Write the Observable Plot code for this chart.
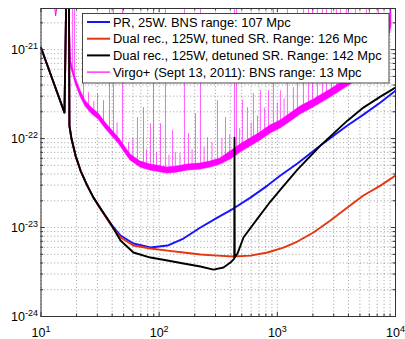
<!DOCTYPE html>
<html><head><meta charset="utf-8">
<script src="https://cdn.jsdelivr.net/npm/d3@7"></script>
<script src="https://cdn.jsdelivr.net/npm/@observablehq/plot@0.6"></script>
<style>
body{margin:0;background:#fff;}
#chart{width:405px;height:339px;position:relative;}
</style>
</head><body><div id="chart"></div>
<script>
// ---- tick labels ----
const xTicks = [10, 100, 1000, 10000];
const xTickLabels = ["10^1", "10^2", "10^3", "10^4"];
const yTicks = [1e-24, 1e-23, 1e-22, 1e-21];
const yTickLabels = ["10^-24", "10^-23", "10^-22", "10^-21"];

// ---- legend ----
const seriesNames = [
  "PR, 25W. BNS range: 107 Mpc",
  "Dual rec., 125W, tuned SR. Range: 126 Mpc",
  "Dual rec., 125W, detuned SR. Range: 142 Mpc",
  "Virgo+ (Sept 13, 2011): BNS range: 13 Mpc"
];
const seriesColors = ["#1414ff", "#e5360f", "#000000", "#ff00ff"];

// ---- PR, 25W ----
const prF = [10, 15.8, 16.5, 17.2, 17.4, 18.1, 19.6, 21.6, 24.4, 27.8, 31.9, 38.8, 47.1, 60.6, 84.4, 117.6, 160.6, 223.6, 311, 425, 592, 825, 1062, 1479, 2315, 3918, 5350, 7454, 10000];
const prV = [1.05e-21, 1.96e-22, 8e-21, 8e-21, 1.40e-22, 1.0e-22, 6.44e-23, 4.37e-23, 3.04e-23, 2.17e-23, 1.635e-23, 1.109e-23, 8.13e-24, 6.61e-24, 5.96e-24, 6.28e-24, 7.52e-24, 1.0e-23, 1.295e-23, 1.635e-23, 2.17e-23, 2.96e-23, 3.84e-23, 5.24e-23, 8.34e-23, 1.40e-22, 1.86e-22, 2.54e-22, 3.46e-22];

// ---- Dual recycling, tuned SR ----
const tunedF = [10, 15.8, 16.5, 17.2, 17.4, 18.1, 19.6, 21.6, 24.4, 27.8, 31.9, 38.8, 47.1, 60.6, 84.4, 117.6, 160.6, 223.6, 311, 425, 592, 825, 1126, 1479, 2021, 2813, 3918, 5350, 7454, 10000];
const tunedV = [1.05e-21, 1.96e-22, 8e-21, 8e-21, 1.40e-22, 1.0e-22, 6.44e-23, 4.37e-23, 3.04e-23, 2.17e-23, 1.62e-23, 1.08e-23, 7.72e-24, 6.28e-24, 5.81e-24, 5.51e-24, 5.24e-24, 4.97e-24, 4.84e-24, 4.72e-24, 4.84e-24, 5.24e-24, 5.96e-24, 6.96e-24, 8.79e-24, 1.20e-23, 1.68e-23, 2.29e-23, 2.96e-23, 3.84e-23];

// ---- Dual recycling, detuned SR ----
const detunedF = [10, 15.8, 16.5, 17.2, 17.4, 18.1, 19.6, 21.6, 24.4, 27.8, 31.9, 38.8, 47.1, 60.6, 84.4, 117.6, 160.6, 223.6, 288, 350, 401, 432, 434, 436, 460, 517, 679, 874, 1062, 1479, 2315, 3918, 5350, 7454, 10000];
const detunedV = [1.05e-21, 1.96e-22, 8e-21, 8e-21, 1.40e-22, 1.0e-22, 6.44e-23, 4.37e-23, 3.04e-23, 2.17e-23, 1.635e-23, 1.109e-23, 7.14e-24, 5.24e-24, 4.60e-24, 4.26e-24, 3.94e-24, 3.65e-24, 3.37e-24, 3.55e-24, 4.04e-24, 4.48e-24, 1.026e-22, 4.6e-24, 5.10e-24, 7.72e-24, 1.26e-23, 1.96e-23, 2.67e-23, 4.48e-23, 8.34e-23, 1.59e-22, 2.23e-22, 2.96e-22, 3.74e-22];

// ---- Virgo+ measured (Sept 13, 2011) ----
const virgoLowF = [12.2, 13.0, 13.3, 13.7, 14.4, 16.8, 17.8];
const virgoLowV = [8e-21, 3.2e-21, 2.4e-21, 3.2e-21, 8e-21, 8e-21, 7.14e-22];
const virgoF  = [17.8, 19.6, 21.6, 23.8, 26.7, 30.7, 35.1, 39.5, 45.3, 51.9, 57.2, 69.5, 84.4, 117.6, 142.8, 173.5, 223.6, 271.6, 330, 401, 487, 592, 719, 874, 1062, 1291, 1568, 2021, 2813, 3918, 5047, 6761, 8215, 9233];
const virgoLo = [6.61e-22, 4.15e-22, 2.96e-22, 2.29e-22, 1.91e-22, 1.635e-22, 1.295e-22, 1.08e-22, 8.79e-23, 6.78e-23, 5.66e-23, 4.72e-23, 4.37e-23, 4.04e-23, 4.15e-23, 4.37e-23, 4.48e-23, 4.72e-23, 5.10e-23, 5.81e-23, 6.96e-23, 8.13e-23, 9.50e-23, 1.138e-22, 1.295e-22, 1.55e-22, 1.86e-22, 2.23e-22, 2.89e-22, 3.84e-22, 4.72e-22, 6.28e-22, 9.25e-22, 1.81e-21];
const virgoHi = [7.72e-22, 4.84e-22, 3.46e-22, 2.67e-22, 2.23e-22, 1.91e-22, 1.513e-22, 1.26e-22, 1.026e-22, 7.92e-23, 6.61e-23, 5.51e-23, 5.10e-23, 4.72e-23, 4.84e-23, 5.10e-23, 5.24e-23, 5.51e-23, 5.96e-23, 7.14e-23, 8.56e-23, 1.0e-22, 1.168e-22, 1.40e-22, 1.59e-22, 1.91e-22, 2.29e-22, 2.74e-22, 3.55e-22, 4.72e-22, 5.81e-22, 7.72e-22, 1.138e-21, 3.12e-21];
const lineF   = [18.5, 19.2, 22.9, 25.2, 28.0, 30.1, 33.8, 38.0, 41.1, 44.0, 48.9, 55.0, 60.0, 65.5, 73.7, 78.0, 84.4, 89.5, 95.0, 102.6, 113.0, 121.0, 129.6, 137.0, 150.0, 163.7, 177.0, 190.0, 202.8, 223.6, 240.0, 256.2, 280.0, 311.3, 340.0, 363.9, 395.0, 434, 450.8, 480.0, 506.7, 558.5, 600.0, 628, 680.0, 719, 780.0, 840.9, 926.8, 1000, 1062, 1140, 1217, 1368, 1479, 1663, 1833, 1982, 2184, 2408, 2603, 2870, 3162, 3418, 3842, 3995, 4578, 5673, 6015, 7167];
const lineTop = [5e-21, 5e-21, 5.0e-22, 3.3e-22, 2.6e-22, 3.2e-22, 2.67e-22, 5e-21, 5e-21, 1.5e-22, 5e-21, 9.0e-23, 1.0e-22, 1.72e-22, 2.23e-22, 7.5e-23, 1.47e-22, 5e-21, 7.0e-23, 1.47e-22, 5e-21, 6.5e-23, 1.23e-22, 7.0e-23, 6.8e-23, 5e-21, 1.138e-22, 7.5e-23, 1.91e-22, 5e-21, 8.0e-23, 1.026e-22, 9.0e-23, 2.67e-22, 1.0e-22, 1.72e-22, 1.1e-22, 5e-21, 5e-21, 1.3e-22, 2.67e-22, 2.23e-22, 1.5e-22, 3.20e-22, 1.8e-22, 3.46e-22, 2.2e-22, 3.46e-22, 5e-21, 2.5e-22, 3.46e-22, 2.8e-22, 5e-21, 3.74e-22, 5e-21, 5e-21, 5e-21, 5e-21, 5e-21, 5e-21, 5e-21, 5e-21, 5e-21, 5e-21, 5e-21, 5e-21, 5e-21, 5e-21, 5e-21, 5e-21];

// ---- build tables ----
const pts = (F, V) => F.map((f, i) => ({f, v: V[i]}));
const band = virgoF.map((f, i) => ({f, lo: virgoLo[i], hi: virgoHi[i]}));
function interpLog(xs, ys, x) {
  const lx = Math.log10(x);
  for (let i = 0; i < xs.length - 1; i++) {
    const a = Math.log10(xs[i]), b = Math.log10(xs[i + 1]);
    if (lx >= a && lx <= b) {
      const t = (lx - a) / (b - a);
      return Math.pow(10, Math.log10(ys[i]) * (1 - t) + Math.log10(ys[i + 1]) * t);
    }
  }
  return ys[ys.length - 1];
}
const spikes = lineF.map((f, i) => ({f, top: lineTop[i], base: interpLog(virgoF, virgoLo, Math.max(f, virgoF[0]))}));

const xGrid = [];
for (const d of [10, 100, 1000]) for (let k = 1; k <= 9; k++) xGrid.push(d * k);
xGrid.push(10000);
const yGrid = [];
for (const d of [1e-24, 1e-23, 1e-22, 1e-21]) for (let k = 1; k <= 9; k++) if (d * k <= 2.9e-21) yGrid.push(d * k);
const xMinor = xGrid.filter(v => !xTicks.includes(v));
const yMinor = yGrid.filter(v => !yTicks.includes(v));

const W = 405, H = 339, mL = 40.5, mR = 10, mT = 8, mB = 23;
const fw = W - mL - mR, fh = H - mT - mB;
const gridStyle = {stroke: "#333", strokeWidth: 0.6, strokeDasharray: "1,2.4", strokeOpacity: 0.8};
const lw = 1.9;
const FONT = "'Liberation Sans', Arial, Helvetica, sans-serif";

const chart = Plot.plot({
  width: W, height: H,
  marginLeft: mL, marginRight: mR, marginTop: mT, marginBottom: mB,
  style: {fontFamily: FONT, fontSize: "12.5px", background: "#fff", color: "#000"},
  x: {type: "log", domain: [10, 10000], label: null},
  y: {type: "log", domain: [1e-24, 2.9e-21], label: null},
  marks: [
    Plot.ruleX(xGrid, gridStyle),
    Plot.ruleY(yGrid, gridStyle),
    Plot.line(pts(virgoLowF, virgoLowV), {x: "f", y: "v", stroke: seriesColors[3], strokeWidth: 1, clip: true}),
    Plot.ruleX(spikes, {x: "f", y1: "base", y2: "top", stroke: seriesColors[3], strokeWidth: 0.9, strokeOpacity: 0.7, clip: true}),
    Plot.areaY(band, {x: "f", y1: "lo", y2: "hi", fill: seriesColors[3], stroke: seriesColors[3], strokeWidth: 0.6, clip: true}),
    Plot.line(pts(prF, prV), {x: "f", y: "v", stroke: seriesColors[0], strokeWidth: lw, clip: true}),
    Plot.line(pts(tunedF, tunedV), {x: "f", y: "v", stroke: seriesColors[1], strokeWidth: lw, clip: true}),
    Plot.line(pts(detunedF, detunedV), {x: "f", y: "v", stroke: seriesColors[2], strokeWidth: lw, clip: true}),
    // inward ticks on all four sides
    Plot.ruleX(xTicks, {insetTop: fh - 4, stroke: "#333"}),
    Plot.ruleX(xTicks, {insetBottom: fh - 4, stroke: "#333"}),
    Plot.ruleX(xMinor, {insetTop: fh - 2.5, stroke: "#333"}),
    Plot.ruleX(xMinor, {insetBottom: fh - 2.5, stroke: "#333"}),
    Plot.ruleY(yTicks, {insetRight: fw - 4, stroke: "#333"}),
    Plot.ruleY(yTicks, {insetLeft: fw - 4, stroke: "#333"}),
    Plot.ruleY(yMinor, {insetRight: fw - 2.5, stroke: "#333"}),
    Plot.ruleY(yMinor, {insetLeft: fw - 2.5, stroke: "#333"}),
    Plot.frame({stroke: "#333", strokeWidth: 1}),
    Plot.axisX(xTicks, {tickSize: 0, tickPadding: 12, tickFormat: d => xTickLabels[xTicks.indexOf(d)]}),
    Plot.axisY(yTicks, {tickSize: 0, tickPadding: 3, tickFormat: d => yTickLabels[yTicks.indexOf(d)]})
  ]
});

// superscript exponents in tick labels
d3.select(chart).selectAll('g[aria-label="x-axis tick label"] text, g[aria-label="y-axis tick label"] text').each(function () {
  const t = d3.select(this);
  const s = t.text();
  const [b, e] = s.split("^");
  t.text(null);
  t.append("tspan").text(b);
  t.append("tspan").attr("dy", "-0.55em").attr("font-size", "9px").text(e);
});

// legend box
const lg = d3.select(chart).append("g").attr("font-family", FONT).attr("font-size", "12.9px").attr("text-anchor", "start");
lg.append("rect").attr("x", 82.5).attr("y", 13.5).attr("width", 306.5).attr("height", 69.5).attr("fill", "#fff").attr("stroke", "#333").attr("stroke-width", 0.9);
seriesNames.forEach((name, i) => {
  const y = 22 + i * 16.7;
  lg.append("line").attr("x1", 87).attr("x2", 110).attr("y1", y).attr("y2", y).attr("stroke", seriesColors[i]).attr("stroke-width", i === 3 ? 1.2 : 2);
  lg.append("text").attr("x", 113).attr("y", y + 4.5).attr("text-anchor", "start").attr("fill", "#000").text(name);
});

document.getElementById("chart").appendChild(chart);
</script>
</body></html>
